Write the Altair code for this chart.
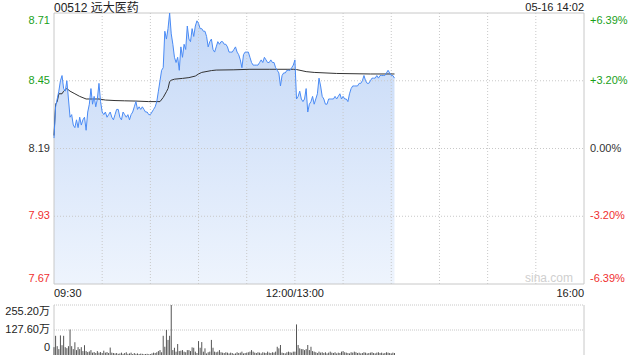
import altair as alt
import pandas as pd

title_text = "00512 远大医药"
time_text = "05-16 14:02"
watermark = "sina.com"

price_ticks = [8.71, 8.45, 8.19, 7.93, 7.67]
price_labels = ["8.71", "8.45", "8.19", "7.93", "7.67"]
pct_labels = ["+6.39%", "+3.20%", "0.00%", "-3.20%", "-6.39%"]
label_colors = ["#1a9f1a", "#1a9f1a", "#333333", "#f03030", "#f03030"]
label_pos = ["top", "mid", "mid", "mid", "bottom"]

x_tick_minutes = [0, 150, 330]
x_tick_labels = ["09:30", "12:00/13:00", "16:00"]
x_tick_align = ["left", "center", "right"]
grid_minutes = [30, 60, 90, 120, 150, 180, 210, 240, 270, 300]

vol_ticks = [255.2, 127.6, 0]
vol_labels = ["255.20万", "127.60万", "0"]
vol_pos = ["top", "mid", "bottom"]

# minute index since 09:30 (trading minutes, lunch break removed)
prices = [
    8.23, 8.35, 8.38, 8.41, 8.45, 8.47, 8.42, 8.41, 8.45, 8.38,
    8.31, 8.32, 8.28, 8.27, 8.30, 8.27, 8.31, 8.28, 8.30, 8.31,
    8.26, 8.33, 8.36, 8.42, 8.36, 8.39, 8.35, 8.38, 8.44, 8.37,
    8.33, 8.32, 8.33, 8.31, 8.32, 8.33, 8.31, 8.30, 8.32, 8.34,
    8.34, 8.31, 8.30, 8.33, 8.32, 8.31, 8.32, 8.30, 8.32, 8.33,
    8.35, 8.37, 8.34, 8.35, 8.34, 8.35, 8.34, 8.33, 8.33, 8.32,
    8.32, 8.33, 8.34, 8.35, 8.37, 8.41, 8.45, 8.49, 8.50, 8.64,
    8.61, 8.65, 8.71, 8.63, 8.59, 8.54, 8.52, 8.54, 8.49, 8.58,
    8.54, 8.59, 8.57, 8.66, 8.61, 8.60, 8.65, 8.62, 8.66, 8.68,
    8.67, 8.65, 8.65, 8.64, 8.64, 8.62, 8.58, 8.60, 8.61, 8.57,
    8.56, 8.58, 8.60, 8.59, 8.60, 8.60, 8.59, 8.59, 8.58, 8.56,
    8.56, 8.56, 8.57, 8.58, 8.56, 8.55, 8.53, 8.50, 8.55, 8.56,
    8.56, 8.56, 8.54, 8.52, 8.51, 8.51, 8.51, 8.51, 8.52, 8.53,
    8.52, 8.54, 8.53, 8.52, 8.52, 8.53, 8.52, 8.52, 8.50, 8.49,
    8.48, 8.43, 8.47, 8.48, 8.48, 8.49, 8.49, 8.49, 8.50, 8.51,
    8.53, 8.38, 8.39, 8.41, 8.38, 8.37, 8.38, 8.42, 8.33, 8.36,
    8.37, 8.39, 8.36, 8.38, 8.40, 8.46, 8.43, 8.39, 8.38, 8.36,
    8.36, 8.38, 8.38, 8.38, 8.38, 8.39, 8.38, 8.39, 8.40, 8.38,
    8.39, 8.38, 8.38, 8.37, 8.40, 8.42, 8.43, 8.43, 8.43, 8.43,
    8.44, 8.44, 8.45, 8.47, 8.45, 8.44, 8.44, 8.45, 8.46, 8.46,
    8.46, 8.47, 8.46, 8.47, 8.47, 8.47, 8.47, 8.48, 8.49, 8.48,
    8.47, 8.47, 8.46,
]

volumes = [
    40, 98, 45, 30, 100, 50, 98, 40, 35, 45,
    130, 45, 30, 65, 25, 40, 30, 40, 20, 50,
    20, 15, 18, 25, 12, 15, 10, 20, 12, 15,
    10, 22, 12, 15, 10, 38, 12, 10, 8, 10,
    6, 8, 12, 6, 10, 14, 6, 8, 12, 5,
    10, 6, 8, 5, 7, 6, 4, 5, 6, 4,
    5, 8, 12, 10, 14, 20, 25, 14, 98, 42,
    128, 77, 98, 255, 25, 37, 17, 56, 20, 22,
    25, 17, 14, 25, 25, 20, 39, 37, 17, 10,
    71, 37, 66, 17, 34, 8, 14, 17, 77, 37,
    17, 14, 17, 25, 14, 12, 10, 14, 12, 8,
    12, 10, 6, 8, 14, 10, 12, 17, 8, 10,
    12, 14, 17, 25, 17, 12, 10, 14, 12, 8,
    14, 12, 10, 17, 12, 10, 14, 12, 17, 42,
    34, 51, 12, 10, 8, 14, 17, 14, 12, 17,
    17, 156, 51, 34, 30, 30, 25, 30, 51, 25,
    42, 20, 17, 14, 10, 17, 12, 14, 10, 14,
    8, 12, 17, 12, 10, 14, 8, 12, 10, 17,
    20, 14, 12, 10, 8, 14, 12, 17, 14, 10,
    12, 8, 10, 14, 12, 8, 10, 12, 14, 10,
    8, 12, 14, 10, 12, 8, 10, 14, 12, 10,
    8, 12, 10,
]

avg_minutes = [0, 1, 2, 3, 5, 6, 8, 10, 13, 16, 20, 24, 28, 32, 38, 44, 51, 59, 64,
               66, 68, 70, 71, 72, 73, 75, 80, 84, 88, 90, 92, 98, 101, 112, 122,
               134, 149, 151, 157, 162, 176, 197, 212]
avg_values = [8.24, 8.36, 8.37, 8.40, 8.40, 8.41, 8.42, 8.41, 8.40, 8.39, 8.38, 8.38,
              8.38, 8.376, 8.374, 8.373, 8.372, 8.37, 8.37, 8.37, 8.386, 8.408, 8.42,
              8.447, 8.452, 8.456, 8.459, 8.462, 8.468, 8.476, 8.482, 8.489, 8.491,
              8.492, 8.494, 8.494, 8.494, 8.493, 8.485, 8.482, 8.478, 8.476, 8.476]

P_TOP, P_BOT = 8.71, 7.67
V_TOP = 255.2
FONT = "Liberation Sans, Noto Sans CJK SC"

minutes = list(range(len(prices)))
price_df = pd.DataFrame({"m": minutes, "p": prices, "base": [P_BOT] * len(prices)})
vol_df = pd.DataFrame({"m": minutes, "v": volumes[:len(minutes)], "zero": [0] * len(minutes)})
avg_df = pd.DataFrame({"m": avg_minutes, "p": avg_values})
plabels_df = pd.DataFrame({"p": price_ticks, "t": price_labels, "pct": pct_labels,
                           "c": label_colors, "pos": label_pos, "x0": 0, "x1": 330})
vgrid_df = pd.DataFrame({"m": grid_minutes, "top": P_TOP, "bot": P_BOT})
hgrid_df = pd.DataFrame({"p": price_ticks[1:4], "x0": 0, "x1": 330})
xlab_df = pd.DataFrame({"m": x_tick_minutes, "t": x_tick_labels, "a": x_tick_align, "p": P_BOT})
vlab_df = pd.DataFrame({"v": vol_ticks, "t": vol_labels, "pos": vol_pos, "x0": 0, "x1": 330})
box_df = pd.DataFrame({"x0": [0], "x1": [330], "top": [P_TOP], "bot": [P_BOT],
                       "vt": [V_TOP], "vb": [0]})

xs = alt.Scale(domain=[0, 330], range=[0, 530], nice=False, zero=False)
py = alt.Scale(domain=[P_BOT, P_TOP], range=[271, 0], nice=False, zero=False)
vy = alt.Scale(domain=[0, V_TOP], range=[342, 292], nice=False, zero=False)

X = lambda f: alt.X(f, type="quantitative", scale=xs, axis=None)
YP = lambda f: alt.Y(f, type="quantitative", scale=py, axis=None)
YV = lambda f: alt.Y(f, type="quantitative", scale=vy, axis=None)

grad = alt.Gradient(gradient="linear",
                    stops=[alt.GradientStop(color="#c4d8f7", offset=0),
                           alt.GradientStop(color="#eef4fd", offset=1)],
                    x1=1, x2=1, y1=0, y2=1)

area = alt.Chart(price_df).mark_area(color=grad).encode(
    x=X("m"), y=YP("p"), y2="base")

vgrid = alt.Chart(vgrid_df).mark_rule(color="#c8c8c8", strokeDash=[1, 2], strokeWidth=1).encode(
    x=X("m"), y=YP("top"), y2="bot")
hgrid = alt.Chart(hgrid_df).mark_rule(color="#c8c8c8", strokeDash=[1, 2], strokeWidth=1).encode(
    x=X("x0"), x2="x1", y=YP("p"))
box = alt.Chart(box_df).mark_rect(fillOpacity=0, stroke="#c8c8c8", strokeWidth=1).encode(
    x=X("x0"), x2="x1", y=YP("top"), y2="bot")

avg_line = alt.Chart(avg_df).mark_line(color="#333333", strokeWidth=1).encode(
    x=X("m"), y=YP("p"))
price_line = alt.Chart(price_df).mark_line(color="#4a8bf5", strokeWidth=1).encode(
    x=X("m"), y=YP("p"))

vbars = alt.Chart(vol_df).mark_rule(color="#555555", strokeWidth=1).encode(
    x=X("m"), y=YV("v"), y2="zero")
vgrid_h = alt.Chart(vlab_df).transform_filter("datum.v > 0").mark_rule(
    color="#c8c8c8", strokeDash=[1, 1], strokeWidth=1).encode(
    x=X("x0"), x2="x1", y=YV("v"))
vside_l = alt.Chart(box_df).mark_rule(color="#c8c8c8", strokeWidth=1).encode(
    x=X("x0"), y=YV("vt"), y2="vb")
vside_r = alt.Chart(box_df).mark_rule(color="#c8c8c8", strokeWidth=1).encode(
    x=X("x1"), y=YV("vt"), y2="vb")

def ptext(pos, field, xfield, align, dx, dy, baseline):
    return alt.Chart(plabels_df).transform_filter(f"datum.pos == '{pos}'").mark_text(
        align=align, baseline=baseline, dx=dx, dy=dy, fontSize=11, font=FONT).encode(
        x=X(xfield), y=YP("p"), text=alt.Text(f"{field}:N"),
        color=alt.Color("c:N", scale=None))

left_top = ptext("top", "t", "x0", "right", -4, 11, "alphabetic")
left_mid = ptext("mid", "t", "x0", "right", -4, 0, "middle")
left_bot = ptext("bottom", "t", "x0", "right", -4, -2, "alphabetic")
right_top = ptext("top", "pct", "x1", "left", 6, 11, "alphabetic")
right_mid = ptext("mid", "pct", "x1", "left", 6, 0, "middle")
right_bot = ptext("bottom", "pct", "x1", "left", 6, -2, "alphabetic")

def xtext(align):
    return alt.Chart(xlab_df).transform_filter(f"datum.a == '{align}'").mark_text(
        align=align, baseline="alphabetic", dy=13, fontSize=11, font=FONT, color="#222222").encode(
        x=X("m"), y=YP("p"), text="t:N")

def vtext(pos, dy, baseline):
    return alt.Chart(vlab_df).transform_filter(f"datum.pos == '{pos}'").mark_text(
        align="right", baseline=baseline, dx=-4, dy=dy, fontSize=11, font=FONT, color="#222222").encode(
        x=X("x0"), y=YV("v"), text="t:N")

title_df = pd.DataFrame({"t": [title_text], "d": [time_text], "w": [watermark],
                         "x0": [0], "x1": [330], "top": [P_TOP], "bot": [P_BOT]})
title_mark = alt.Chart(title_df).mark_text(
    align="left", baseline="alphabetic", dy=-1, fontSize=12, font=FONT, color="#222222").encode(
    x=X("x0"), y=YP("top"), text="t:N")
date_mark = alt.Chart(title_df).mark_text(
    align="right", baseline="alphabetic", dy=-2, fontSize=11, font=FONT, color="#222222").encode(
    x=X("x1"), y=YP("top"), text="d:N")
wm_mark = alt.Chart(title_df).mark_text(
    align="right", baseline="alphabetic", dx=-11, dy=-2, fontSize=12, font=FONT, color="#cfcfcf").encode(
    x=X("x1"), y=YP("bot"), text="w:N")

chart = alt.layer(
    area, vgrid, hgrid, box, wm_mark, avg_line, price_line,
    vgrid_h, vside_l, vside_r, vbars,
    left_top, left_mid, left_bot, right_top, right_mid, right_bot,
    xtext("left"), xtext("center"), xtext("right"),
    vtext("top", 10, "alphabetic"), vtext("mid", 0, "middle"), vtext("bottom", -4, "alphabetic"),
    title_mark, date_mark,
).resolve_scale(y="independent").properties(
    width=530, height=342,
    autosize=alt.AutoSizeParams(type="none"),
    padding={"left": 54, "top": 13, "right": 56, "bottom": 5},
    background="white",
).configure_view(strokeWidth=0)

chart.save("out.html", embed_options={"renderer": "svg", "actions": False})
